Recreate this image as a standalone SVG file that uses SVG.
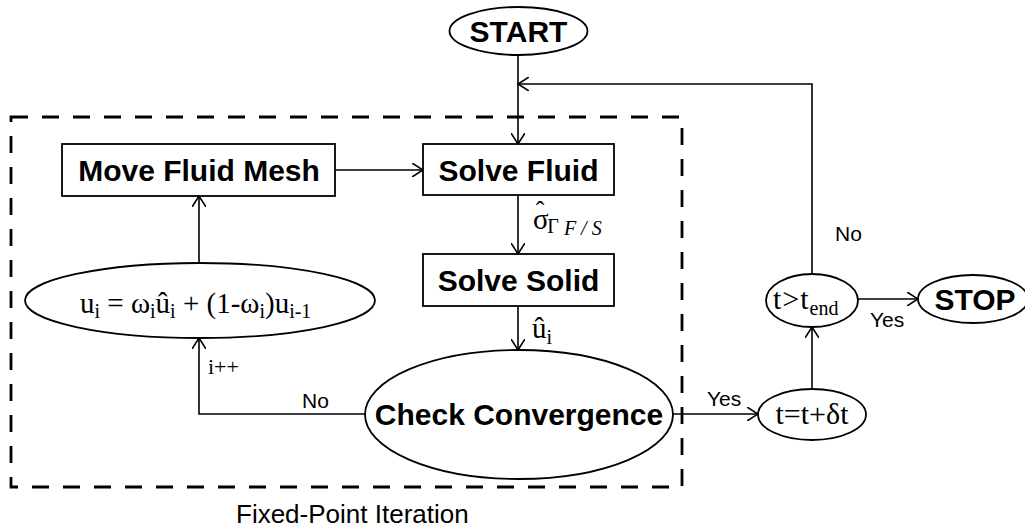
<svg xmlns="http://www.w3.org/2000/svg" width="1025" height="529" viewBox="0 0 1025 529">
  <style>
    .shape { fill: #fff; stroke: #000; stroke-width: 1.8; }
    .wire { fill: none; stroke: #000; stroke-width: 1.6; }
    .frame { fill: none; stroke: #000; stroke-width: 2.8; stroke-dasharray: 17 14; }
    .bold { font-family: "Liberation Sans", Arial, sans-serif; font-weight: bold; font-size: 30px; text-anchor: middle; }
    .lbl { font-family: "Liberation Sans", Arial, sans-serif; font-size: 21px; }
    .math { font-family: "Liberation Serif", "Times New Roman", serif; font-size: 29px; }
    .sub { font-size: 20px; }
  </style>
  <defs>
    <marker id="arrow" viewBox="0 0 12 14" refX="11" refY="7" markerWidth="12" markerHeight="14" markerUnits="userSpaceOnUse" orient="auto">
      <path d="M0,0 L11,7 L0,14" fill="none" stroke="#000" stroke-width="1.6"/>
    </marker>
  </defs>

  <!-- dashed frame around the fixed-point loop -->
  <rect class="frame" x="11" y="117" width="671" height="370"/>
  <text class="lbl" x="236" y="523" style="font-size:26px">Fixed-Point Iteration</text>

  <g id="connectors">
    <line class="wire" x1="518" y1="55" x2="518" y2="144" marker-end="url(#arrow)"/>
    <polyline class="wire" points="812,274 812,84 518,84" marker-end="url(#arrow)"/>
    <line class="wire" x1="335" y1="170" x2="423" y2="170" marker-end="url(#arrow)"/>
    <line class="wire" x1="518" y1="195" x2="518" y2="254" marker-end="url(#arrow)"/>
    <line class="wire" x1="518" y1="306" x2="518" y2="350" marker-end="url(#arrow)"/>
    <polyline class="wire" points="365,414 199,414 199,338" marker-end="url(#arrow)"/>
    <line class="wire" x1="199" y1="263" x2="199" y2="196" marker-end="url(#arrow)"/>
    <line class="wire" x1="673" y1="414" x2="758" y2="414" marker-end="url(#arrow)"/>
    <line class="wire" x1="812" y1="389" x2="812" y2="327" marker-end="url(#arrow)"/>
    <line class="wire" x1="858" y1="299" x2="918" y2="299" marker-end="url(#arrow)"/>

    <!-- interface traction passed fluid -> solid (hat set over the sigma) -->
    <text class="math" x="533" y="229">σ<tspan dx="-13" dy="-10" style="font-size:26px">ˆ</tspan><tspan class="sub" dx="3" dy="14">Γ</tspan><tspan class="sub" dy="2" font-style="italic" font-size="17px"> F / S</tspan></text>
    <!-- solid displacement passed to the convergence check -->
    <text class="math" x="532" y="338">û<tspan class="sub" dy="6">i</tspan></text>
    <text class="math" x="208" y="374" style="font-size:22px">i++</text>
    <text class="lbl" x="302" y="408">No</text>
    <text class="lbl" x="707" y="406">Yes</text>
    <text class="lbl" x="835" y="241">No</text>
    <text class="lbl" x="870" y="327">Yes</text>
  </g>

  <g id="start">
    <ellipse class="shape" cx="518.5" cy="31" rx="69" ry="24"/>
    <text class="bold" x="518.5" y="42">START</text>
  </g>
  <g id="move-fluid-mesh">
    <rect class="shape" x="62" y="144" width="273" height="52"/>
    <text class="bold" x="199" y="181">Move Fluid Mesh</text>
  </g>
  <g id="solve-fluid">
    <rect class="shape" x="423" y="144" width="191" height="51"/>
    <text class="bold" x="518.5" y="181">Solve Fluid</text>
  </g>
  <g id="solve-solid">
    <rect class="shape" x="423" y="254" width="191" height="52"/>
    <text class="bold" x="518.5" y="291">Solve Solid</text>
  </g>
  <g id="relaxation">
    <ellipse class="shape" cx="200" cy="300.5" rx="175" ry="37.5"/>
    <text class="math" x="80" y="313">u<tspan class="sub" dy="5">i</tspan><tspan dy="-5"> = ω</tspan><tspan class="sub" dy="5">i</tspan><tspan dy="-5">û</tspan><tspan class="sub" dy="5">i</tspan><tspan dy="-5"> + (1-ω</tspan><tspan class="sub" dy="5">i</tspan><tspan dy="-5">)u</tspan><tspan class="sub" dy="5">i-1</tspan></text>
  </g>
  <g id="check-convergence">
    <ellipse class="shape" cx="519" cy="414.5" rx="154" ry="64.5"/>
    <text class="bold" x="519" y="425">Check Convergence</text>
  </g>
  <g id="time-step">
    <ellipse class="shape" cx="812" cy="414.5" rx="54" ry="25.5"/>
    <text class="math" x="812" y="424" text-anchor="middle" style="font-size:30px">t=t+δt</text>
  </g>
  <g id="end-test">
    <ellipse class="shape" cx="812" cy="300.5" rx="46" ry="26.5"/>
    <text class="math" x="773" y="309" style="font-size:30px">t<tspan dx="1">&gt;</tspan><tspan dx="1">t</tspan><tspan class="sub" dx="1" dy="6">end</tspan></text>
  </g>
  <g id="stop">
    <ellipse class="shape" cx="973" cy="299" rx="55" ry="24"/>
    <text class="bold" x="975" y="310">STOP</text>
  </g>
</svg>
